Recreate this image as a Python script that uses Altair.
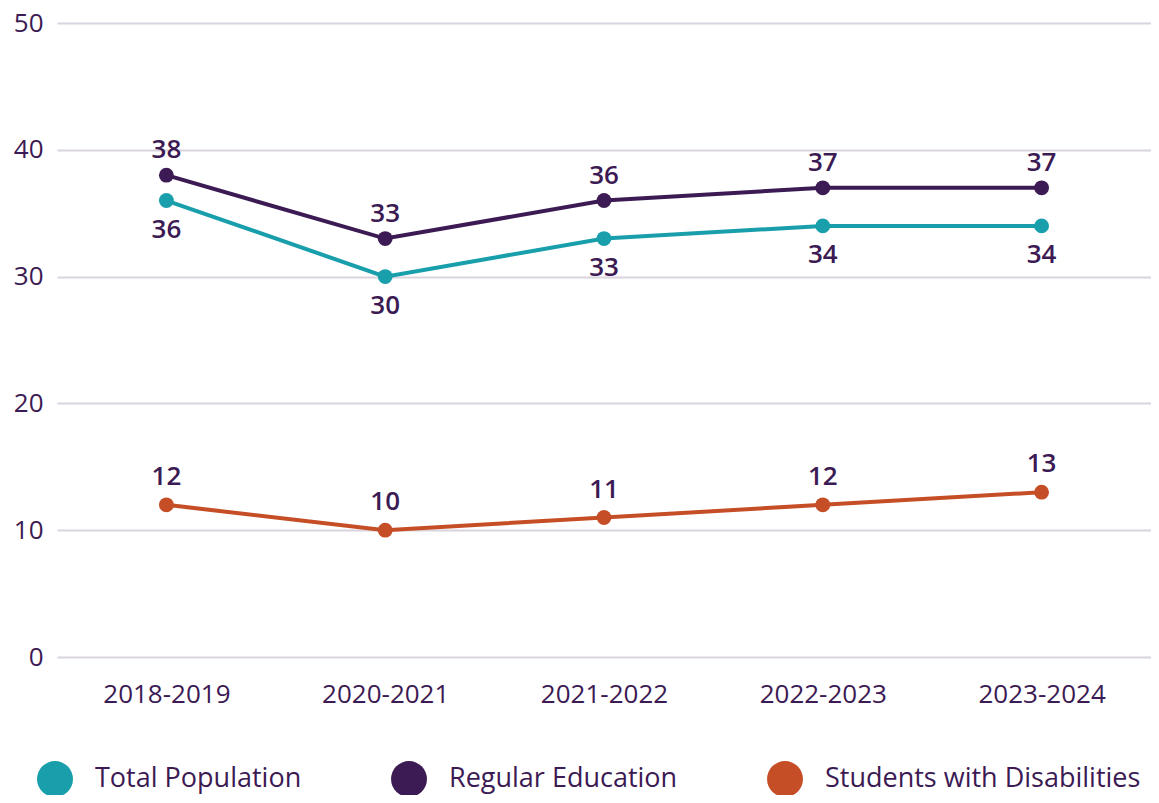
import altair as alt
import pandas as pd

years = ["2018-2019", "2020-2021", "2021-2022", "2022-2023", "2023-2024"]
series_names = ["Total Population", "Regular Education", "Students with Disabilities"]
total_population = [36, 30, 33, 34, 34]
regular_education = [38, 33, 36, 37, 37]
students_with_disabilities = [12, 10, 11, 12, 13]
colors = ["#189fab", "#3c1a53", "#c64e27"]
text_color = "#3c1a53"

rows = []
for name, vals in zip(series_names, [total_population, regular_education, students_with_disabilities]):
    for y, v in zip(years, vals):
        rows.append({"year": y, "series": name, "value": v})
df = pd.DataFrame(rows)

FONT = "Open Sans"

x = alt.X("year:N", sort=years, title=None,
          scale=alt.Scale(padding=0.5),
          axis=alt.Axis(labelAngle=0, labelFontSize=26, labelColor=text_color, labelFont=FONT,
                        labelPadding=24, ticks=False, domain=False, grid=False))
y = alt.Y("value:Q", title=None,
          scale=alt.Scale(domain=[0, 50]),
          axis=alt.Axis(values=[0, 10, 20, 30, 40, 50], labelFontSize=26, labelColor=text_color,
                        labelFont=FONT, labelPadding=14, ticks=False, domain=False,
                        gridColor="#d9d4dd", gridWidth=2))

color_scale = alt.Scale(domain=series_names, range=colors)
legend = alt.Legend(title=None, orient="none", legendX=-20, legendY=738,
                    direction="horizontal", symbolType="circle", symbolSize=1290,
                    symbolStrokeWidth=0, labelFontSize=27, labelFont=FONT,
                    labelColor=text_color, labelOffset=22, columnPadding=89,
                    labelLimit=400)

base = alt.Chart(df)

lines = base.mark_line(strokeWidth=4).encode(
    x=x, y=y,
    color=alt.Color("series:N", scale=color_scale, legend=legend),
)

points = base.mark_circle(size=220, opacity=1).encode(
    x=x, y=y,
    color=alt.Color("series:N", scale=color_scale, legend=legend),
)

def labels(name, dy):
    return base.transform_filter(alt.datum.series == name).mark_text(
        dy=dy, fontSize=26, fontWeight=600, font=FONT, color=text_color, baseline="middle"
    ).encode(x=x, y=y, text="value:Q")

chart = alt.layer(
    lines, points,
    labels("Total Population", 29),
    labels("Regular Education", -25),
    labels("Students with Disabilities", -28),
).properties(
    width=1094, height=634,
    autosize=alt.AutoSizeParams(type="none"),
    padding={"left": 49, "top": 15, "right": 0, "bottom": 138},
).configure_view(stroke=None)

chart.save("out.html", embed_options={"renderer": "svg", "actions": False})
